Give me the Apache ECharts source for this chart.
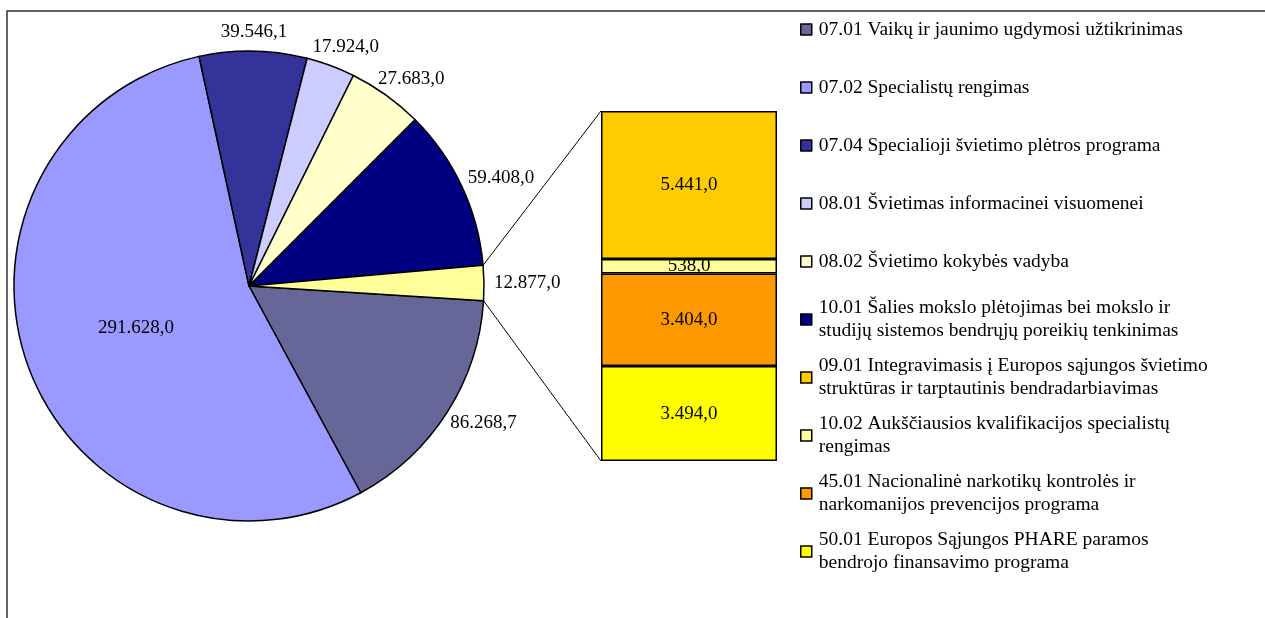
<!DOCTYPE html>
<html><head><meta charset="utf-8">
<script src="https://cdn.jsdelivr.net/npm/echarts@6/dist/echarts.min.js"></script>
<style>html,body{margin:0;padding:0;background:#fff}#c{width:1265px;height:618px}</style>
</head><body><div id="c"></div>
<script>
// ---- data ----
const pieNames = [
  '07.01 Vaikų ir jaunimo ugdymosi užtikrinimas',
  '07.02 Specialistų rengimas',
  '07.04 Specialioji švietimo plėtros programa',
  '08.01 Švietimas informacinei visuomenei',
  '08.02 Švietimo kokybės vadyba',
  '10.01 Šalies mokslo plėtojimas bei mokslo ir\nstudijų sistemos bendrųjų poreikių tenkinimas'
];
const pieValues = [86268.7, 291628.0, 39546.1, 17924.0, 27683.0, 59408.0];
const otherName = 'Kita';
const barNames = [
  '09.01 Integravimasis į Europos sąjungos švietimo\nstruktūras ir tarptautinis bendradarbiavimas',
  '10.02 Aukščiausios kvalifikacijos specialistų\nrengimas',
  '45.01 Nacionalinė narkotikų kontrolės ir\nnarkomanijos prevencijos programa',
  '50.01 Europos Sąjungos PHARE paramos\nbendrojo finansavimo programa'
];
const barValues = [5441.0, 538.0, 3404.0, 3494.0];

// ---- styles ----
const pieColors = ['#666699', '#9999FF', '#333399', '#CCCCFF', '#FFFFCC', '#000080'];
const otherColor = '#FFFF99';
const barColors = ['#FFCC00', '#FFFF99', '#FF9900', '#FFFF00'];
const FONT = 'Liberation Serif, Times New Roman, serif';
const FS = 19;
const LFS = 19.5;

function fmt(v) {
  const s = Number(v).toFixed(1).split('.');
  return s[0].replace(/\B(?=(\d{3})+(?!\d))/g, '.') + ',' + s[1];
}
const otherValue = barValues.reduce((a, b) => a + b, 0);

const pieData = pieNames.map((n, i) => ({
  name: n, value: pieValues[i], itemStyle: { color: pieColors[i] },
  label: i === 1 ? { position: 'inside' } : undefined
}));
pieData.push({ name: otherName, value: otherValue, itemStyle: { color: otherColor } });

const series = [{
  type: 'pie',
  center: [249, 286],
  radius: 235,
  startAngle: -3.6,
  clockwise: true,
  avoidLabelOverlap: false,
  data: pieData,
  itemStyle: { borderColor: '#000', borderWidth: 1.5 },
  label: { show: true, position: 'outside', formatter: p => fmt(p.value),
           fontFamily: FONT, fontSize: FS, color: '#000' },
  labelLine: { show: true, length: 10, length2: 0, lineStyle: { opacity: 0 } },
  labelLayout: function (p) {
    const pts = p.labelLinePoints;
    if (!pts || pts.length < 2) return {};
    let dx = pts[1][0] - pts[0][0], dy = pts[1][1] - pts[0][1];
    const len = Math.hypot(dx, dy) || 1; dx /= len; dy /= len;
    const w = p.labelRect.width, h = p.labelRect.height, gap = 10;
    return {
      x: pts[0][0] + dx * gap + dx * w / 2,
      y: pts[0][1] + dy * gap + dy * h / 2,
      align: 'center', verticalAlign: 'middle'
    };
  },
  emphasis: { disabled: true },
  silent: true
}];

// stacked bar: bottom segment first
for (let i = barValues.length - 1; i >= 0; i--) {
  series.push({
    type: 'bar', name: barNames[i], stack: 'other', data: [barValues[i]],
    barWidth: '100%',
    itemStyle: { color: barColors[i], borderColor: '#000', borderWidth: 1.5 },
    label: { show: true, position: 'inside', formatter: p => fmt(p.value),
             fontFamily: FONT, fontSize: FS, color: '#000' },
    emphasis: { disabled: true },
    silent: true
  });
}

const legendNames = pieNames.concat(barNames);

const chart = echarts.init(document.getElementById('c'), null, { renderer: 'canvas' });
chart.setOption({
  animation: false,
  backgroundColor: '#fff',
  grid: { left: 601, top: 111, width: 176, height: 350 },
  xAxis: { type: 'category', data: ['x'], show: false },
  yAxis: { type: 'value', min: 0, max: otherValue, show: false },
  legend: {
    orient: 'vertical', left: 800, top: 29.5 - 34.5, padding: 0, itemGap: -11,
    itemWidth: 11, itemHeight: 11, icon: 'rect', selectedMode: false,
    itemStyle: { borderColor: '#000', borderWidth: 1.5 },
    textStyle: { fontFamily: FONT, fontSize: LFS, color: '#000', lineHeight: 23 },
    data: legendNames.map(n => ({
      name: n,
      textStyle: { padding: n.indexOf('\n') >= 0 ? [23, 0, 0, 2] : [23, 0, 23, 2] }
    }))
  },
  series: series
});

// connector lines from the "other" slice to the stacked bar, taken from library layouts
(function () {
  const model = chart.getModel();
  const pd = model.getSeriesByIndex(0).getData();
  const L = pd.getItemLayout(pd.count() - 1);
  const a = [L.cx + L.r * Math.cos(L.startAngle), L.cy + L.r * Math.sin(L.startAngle)];
  const b = [L.cx + L.r * Math.cos(L.endAngle), L.cy + L.r * Math.sin(L.endAngle)];
  const up = a[1] < b[1] ? a : b, low = a[1] < b[1] ? b : a;
  let top = Infinity, bottom = -Infinity, left = Infinity;
  for (let s = 1; s < series.length; s++) {
    const bl = model.getSeriesByIndex(s).getData().getItemLayout(0);
    top = Math.min(top, bl.y, bl.y + bl.height);
    bottom = Math.max(bottom, bl.y, bl.y + bl.height);
    left = Math.min(left, bl.x, bl.x + bl.width);
  }
  chart.setOption({
    graphic: [
      { type: 'rect', silent: true, z: -10, shape: { x: 7, y: 11, width: 1400, height: 800 },
        style: { fill: 'none', stroke: '#333', lineWidth: 1.5 } },
      { type: 'line', silent: true, shape: { x1: up[0], y1: up[1], x2: left, y2: top },
        style: { stroke: '#000', lineWidth: 1 } },
      { type: 'line', silent: true, shape: { x1: low[0], y1: low[1], x2: left, y2: bottom },
        style: { stroke: '#000', lineWidth: 1 } }
    ]
  });
})();
</script></body></html>
